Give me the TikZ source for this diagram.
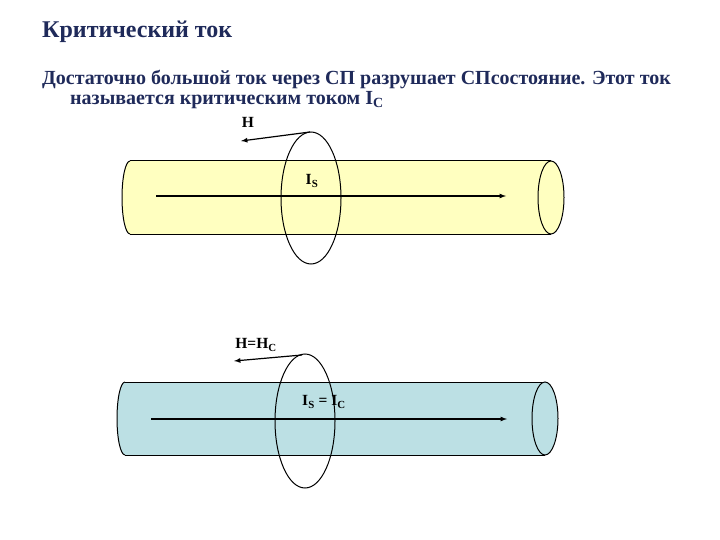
\documentclass[tikz,border=0pt]{standalone}
\usepackage{fontspec}
\setmainfont{Liberation Serif}
\definecolor{ttl}{HTML}{1F2A5A}
\definecolor{yel}{HTML}{FFFFC0}
\definecolor{blu}{HTML}{BCE0E4}
\begin{document}
\begin{tikzpicture}[x=1pt,y=-1pt,
  txt/.style={text=ttl, anchor=west, inner sep=0},
  lbl/.style={font=\fontsize{15.5}{18}\selectfont\bfseries, inner sep=0},
  cyl/.style={draw=black, line width=1pt},
  ring/.style={draw=black, line width=1pt},
  arr/.style={-latex, line width=1.2pt}]
\useasboundingbox (0,0) rectangle (720,540);
\node[txt, font=\fontsize{24}{28}\selectfont\bfseries] (title) at (42,32) {Критический ток};
\node[txt, font=\fontsize{20}{23}\selectfont\bfseries] (l1) at (42,80) {Достаточно большой ток через СП разрушает СПсостояние. Этот ток};
\node[txt, font=\fontsize{20}{23}\selectfont\bfseries] (l2) at (70,100) {называется критическим током I\textsubscript{C}};
% top cylinder
\fill[yel] (130,161) rectangle (551,234);
\fill[yel] (130,197.5) ellipse (8 and 36.5);
\draw[cyl] (130,161) -- (551,161) (130,234) -- (551,234);
\draw[cyl] (130,234) arc (90:270:8 and 36.5);
\draw[cyl, fill=yel] (551,197.5) ellipse (13 and 36.5);
\coordinate (a1) at (156,196); \coordinate (b1) at (506,196);
\draw[arr] (a1) -- (b1);
\draw[ring] (311,198) ellipse (30 and 66);
\coordinate (h1s) at (310,132); \coordinate (h1e) at (241,141);
\draw[arr] (h1s) -- (h1e);
\node[lbl] (H) at (248,122) {H};
\node[lbl] (Is) at (312,181) {I\textsubscript{S}};
% bottom cylinder
\fill[blu] (125,382) rectangle (545,455);
\fill[blu] (125,418.5) ellipse (8 and 36.5);
\draw[cyl] (125,382) -- (545,382) (125,455) -- (545,455);
\draw[cyl] (125,455) arc (90:270:8 and 36.5);
\draw[cyl, fill=blu] (545,418.5) ellipse (13 and 36.5);
\coordinate (a2) at (151,419); \coordinate (b2) at (507,419);
\draw[arr] (a2) -- (b2);
\draw[ring] (305,421) ellipse (30 and 67);
\coordinate (h2s) at (302,355); \coordinate (h2e) at (234,361);
\draw[arr] (h2s) -- (h2e);
\node[lbl] (HC) at (256,345) {H=H\textsubscript{C}};
\node[lbl] (IsIc) at (324,402) {I\textsubscript{S} = I\textsubscript{C}};
\end{tikzpicture}
\end{document}
